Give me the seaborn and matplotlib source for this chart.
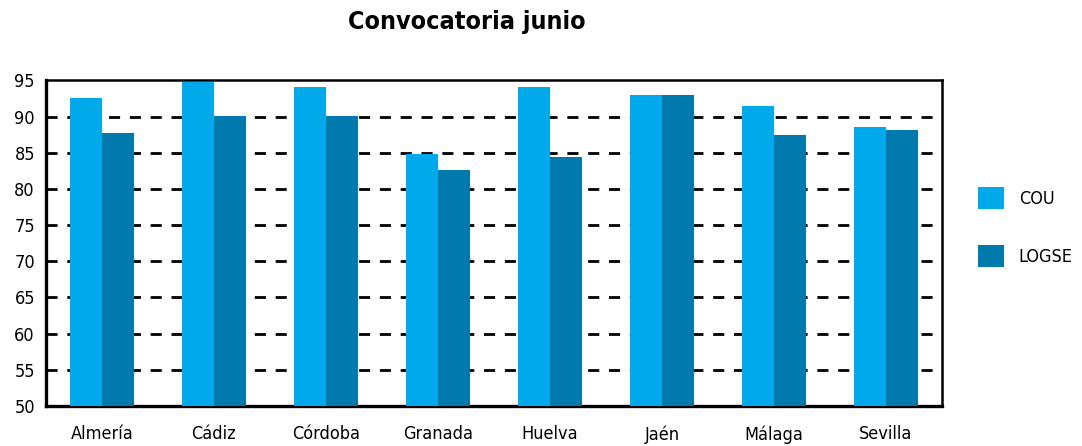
import pandas as pd
import seaborn as sns
from matplotlib import pyplot as plt
from matplotlib.ticker import MultipleLocator, FixedLocator

# data
provincias = ["Almería", "Cádiz", "Córdoba", "Granada", "Huelva", "Jaén", "Málaga", "Sevilla"]
cou = [92.6, 94.8, 94.1, 84.8, 94.1, 93.0, 91.5, 88.6]
logse = [87.8, 90.1, 90.1, 82.6, 84.4, 93.0, 87.5, 88.2]

df = pd.DataFrame({"provincia": provincias * 2,
                   "valor": cou + logse,
                   "tipo": ["COU"] * len(cou) + ["LOGSE"] * len(logse)})

sns.set_style("white")
plt.rcParams["font.family"] = ["Liberation Sans Narrow", "DejaVu Sans"]
plt.rcParams["font.stretch"] = "condensed"
plt.rcParams["text.color"] = "black"
plt.rcParams["xtick.color"] = "black"
plt.rcParams["ytick.color"] = "black"

fig = plt.figure(figsize=(10.82, 4.46), dpi=100)
ax = fig.add_axes([46 / 1082, 1 - 406 / 446, 896 / 1082, (406 - 80.5) / 446])

sns.barplot(data=df, x="provincia", y="valor", hue="tipo", order=provincias,
            palette={"COU": "#00A9E9", "LOGSE": "#0079AD"}, width=0.58,
            saturation=1, errorbar=None, linewidth=0, ax=ax, zorder=3)

ax.set_ylim(50, 95)
ax.set_xlim(-0.5, len(provincias) - 0.5)
ax.yaxis.set_major_locator(MultipleLocator(5))
# dashed grid lines behind the bars
for v in range(55, 95, 5):
    ax.axhline(v, color="black", lw=2, ls=(0, (4, 3.5)), zorder=1)

ax.set_xlabel("")
ax.set_ylabel("")
ax.xaxis.set_minor_locator(FixedLocator([i - 0.5 for i in range(len(provincias) + 1)]))
ax.tick_params(axis="x", which="major", length=0, labelsize=13, pad=14, labelcolor="black")
ax.tick_params(axis="x", which="minor", length=5, width=1.5, direction="out", color="black")
ax.tick_params(axis="y", length=5, width=1.5, direction="out", color="black",
               labelsize=13, pad=3, labelcolor="black")

for s in ax.spines.values():
    s.set_color("black")
    s.set_linewidth(1.8)
ax.spines["left"].set_linewidth(2.4)
ax.spines["bottom"].set_linewidth(2.4)

ax.legend(loc="center left", bbox_to_anchor=(962 / 1082, 219 / 446),
          bbox_transform=fig.transFigure, frameon=False, fontsize=13,
          handlelength=1.4, handleheight=1.5, labelspacing=2.0, handletextpad=0.85,
          labelcolor="black")

fig.text(467 / 1082, 1 - 22 / 446, "Convocatoria junio", ha="center", va="center",
         fontsize=18, fontweight="bold", color="black")

fig.savefig("out.png", dpi=100)
